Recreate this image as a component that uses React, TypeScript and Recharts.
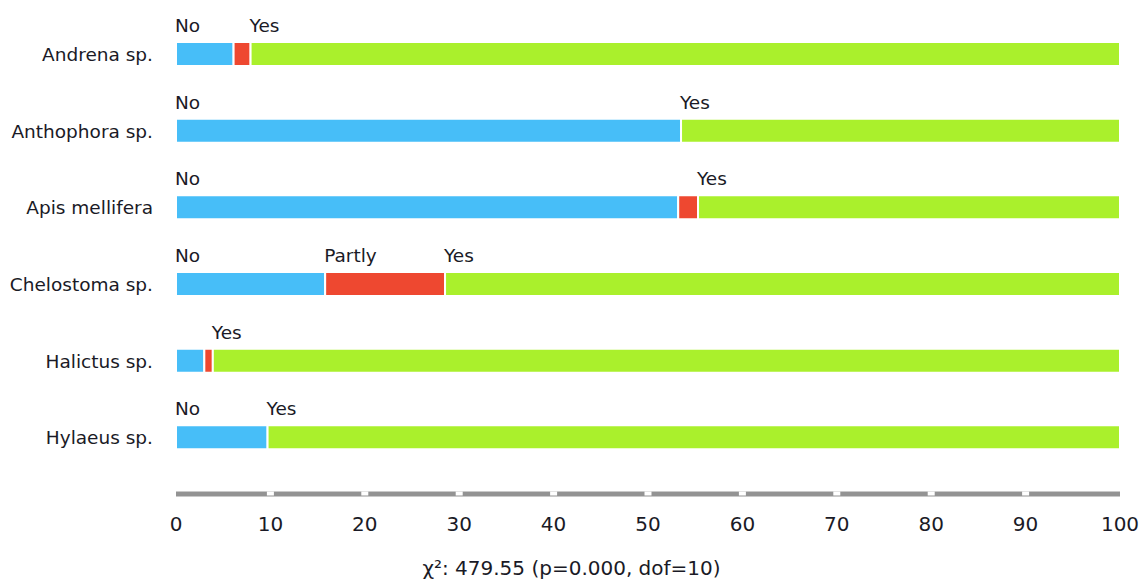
import React from 'react';
import { BarChart, Bar, XAxis, YAxis, LabelList } from 'recharts';

const categories = ['Andrena sp.', 'Anthophora sp.', 'Apis mellifera', 'Chelostoma sp.', 'Halictus sp.', 'Hylaeus sp.'];
const noValues = [6.1, 53.5, 53.2, 15.8, 3.0, 9.7];
const partlyValues = [1.8, 0, 2.1, 12.7, 0.9, 0];
const yesValues = [92.1, 46.5, 44.7, 71.5, 96.1, 90.3];
const xTicks = [0, 10, 20, 30, 40, 50, 60, 70, 80, 90, 100];
const caption = 'χ²: 479.55 (p=0.000, dof=10)';

const data = categories.map((c, i) => ({
  name: c,
  No: noValues[i],
  Partly: partlyValues[i],
  Yes: yesValues[i],
}));

const FONT = 'DejaVu Sans, Verdana, sans-serif';
const TEXT = '#1a1a26';

const makeLabel = (text: string) => (props: any) => {
  const { x, y, width } = props;
  if (!width || width < 35) return null;
  return (
    <text x={x - 1} y={y - 10} fill={TEXT} fontSize={18.5} fontFamily={FONT} textAnchor="start">
      {text}
    </text>
  );
};

const XTick = (props: any) => {
  const { x, y, payload } = props;
  const v = payload.value;
  return (
    <g>
      {v > 0 && v < 100 && <rect x={x - 3.5} y={y - 2.5} width={7} height={4} fill="#fff" />}
      <text x={x} y={y + 30} fill={TEXT} fontSize={20} fontFamily={FONT} textAnchor="middle" dominantBaseline="central">
        {v}
      </text>
    </g>
  );
};

export default function App() {
  return (
    <div style={{ position: 'absolute', left: 0, top: 0, width: 1143, height: 581, background: '#fff' }}>
      <BarChart
        width={1143}
        height={581}
        data={data}
        layout="vertical"
        margin={{ top: 16, right: 23, bottom: 0, left: 0 }}
        barCategoryGap={0}
      >
        <XAxis
          type="number"
          domain={[0, 100]}
          ticks={xTicks}
          interval={0}
          axisLine={{ stroke: '#939393', strokeWidth: 5 }}
          tickLine={false}
          tickSize={0}
          tickMargin={0}
          tick={<XTick />}
          height={87}
        />
        <YAxis
          type="category"
          dataKey="name"
          width={176}
          axisLine={false}
          tickLine={false}
          tickSize={0}
          tickMargin={23}
          padding={{ top: 0, bottom: 18 }}
          tick={{ fill: TEXT, fontSize: 18.5, fontFamily: FONT }}
        />
        <Bar dataKey="No" stackId="a" fill="#47bef8" stroke="#fff" strokeWidth={2} barSize={24} isAnimationActive={false}>
          <LabelList dataKey="No" content={makeLabel('No')} />
        </Bar>
        <Bar dataKey="Partly" stackId="a" fill="#ee4830" stroke="#fff" strokeWidth={2} barSize={24} isAnimationActive={false}>
          <LabelList dataKey="Partly" content={makeLabel('Partly')} />
        </Bar>
        <Bar dataKey="Yes" stackId="a" fill="#aaf02c" stroke="#fff" strokeWidth={2} barSize={24} isAnimationActive={false}>
          <LabelList dataKey="Yes" content={makeLabel('Yes')} />
        </Bar>
      </BarChart>
      <div
        style={{
          position: 'absolute',
          left: 0,
          top: 556,
          width: 1143,
          textAlign: 'center',
          fontFamily: FONT,
          fontSize: 20,
          lineHeight: '24px',
          color: TEXT,
        }}
      >
        {caption}
      </div>
    </div>
  );
}
